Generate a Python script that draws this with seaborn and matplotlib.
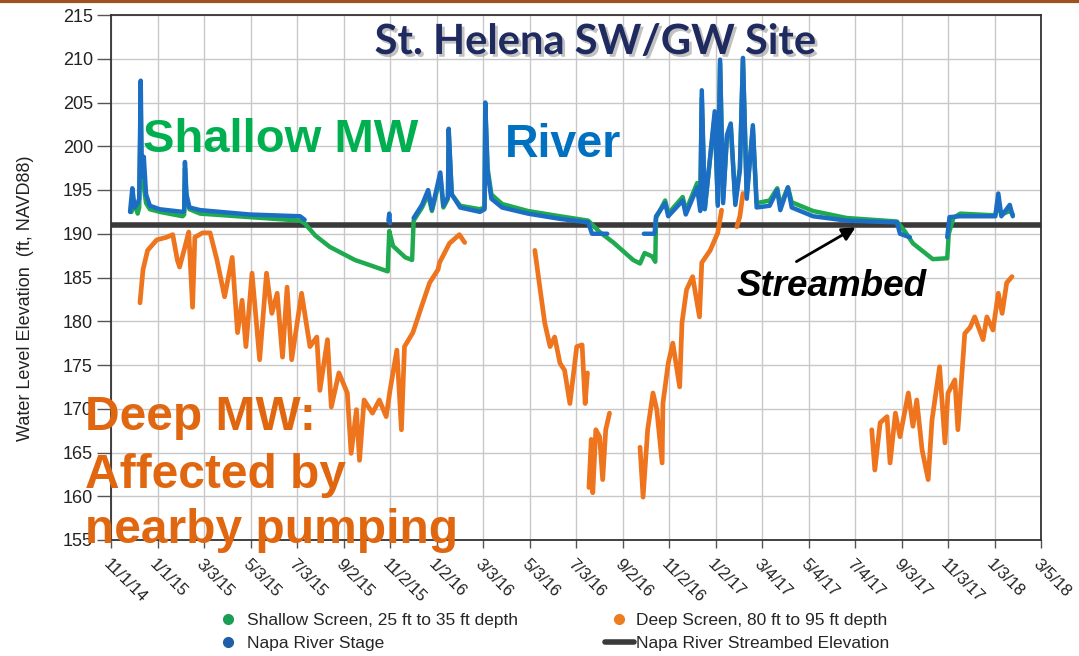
import pandas as pd
import seaborn as sns
import matplotlib.pyplot as plt
import matplotlib.patheffects as pe
from matplotlib.lines import Line2D

# Shallow monitoring well (25-35 ft screen)
shallow_dates = ["2014-11-28", "2014-12-02", "2014-12-06", "2014-12-08", "2014-12-10", "2014-12-11",
                 "2014-12-13", "2014-12-17", "2014-12-22", "2015-01-04", "2015-02-03", "2015-02-05",
                 "2015-02-06", "2015-02-08", "2015-02-12", "2015-02-26", "2015-05-02", "2015-07-07",
                 "2015-07-13", "2015-07-27", "2015-08-15", "2015-09-17", "2015-10-07", "2015-10-30",
                 "2015-11-01", "2015-11-06", "2015-11-22", "2015-12-01", "2015-12-03", "2015-12-14",
                 "2015-12-22", "2015-12-27", "2016-01-07", "2016-01-11", "2016-01-17", "2016-01-18",
                 "2016-01-22", "2016-02-02", "2016-02-28", "2016-03-05", "2016-03-06", "2016-03-09",
                 "2016-03-14", "2016-03-28", "2016-05-01", "2016-06-12", "2016-07-19", "2016-08-03",
                 "2016-08-21", "2016-09-16", "2016-09-25", "2016-10-01", "2016-10-11", "2016-10-15",
                 "2016-10-16", "2016-10-28", "2016-11-01", "2016-11-20", "2016-11-24", "2016-12-09",
                 "2016-12-13", "2016-12-15", "2016-12-19", "2017-01-01", "2017-01-05", "2017-01-08",
                 "2017-01-12", "2017-01-17", "2017-01-22", "2017-01-28", "2017-02-03", "2017-02-07",
                 "2017-02-12", "2017-02-20", "2017-02-25", "2017-03-14", "2017-03-24", "2017-03-28",
                 "2017-04-07", "2017-04-12", "2017-05-10", "2017-06-23", "2017-08-28", "2017-09-08",
                 "2017-09-18", "2017-10-14", "2017-11-02", "2017-11-04", "2017-11-10", "2017-11-19",
                 "2018-01-04", "2018-01-08", "2018-01-12", "2018-01-23", "2018-01-27"]
shallow_vals = [192.5, 193.5, 192.3, 193.0, 205.0, 198.0,
                196.0, 193.5, 192.8, 192.5, 192.0, 192.2,
                197.5, 194.0, 192.8, 192.3, 191.9, 191.5,
                191.2, 189.8, 188.5, 187.0, 186.4, 185.7,
                190.3, 188.6, 187.3, 187.0, 191.5, 193.0,
                194.5, 192.6, 196.5, 193.0, 194.0, 201.5,
                194.5, 193.2, 192.8, 193.0, 204.5, 197.5,
                194.5, 193.4, 192.6, 192.0, 191.5, 190.2,
                189.0, 187.0, 186.6, 187.8, 187.4, 186.8,
                191.8, 193.8, 192.3, 194.2, 192.6, 195.8,
                193.0, 205.5, 193.0, 203.5, 193.5, 209.5,
                194.0, 201.0, 202.3, 193.8, 197.5, 210.0,
                194.5, 202.0, 193.5, 193.8, 195.2, 193.2,
                195.3, 193.6, 192.6, 191.8, 191.4, 190.2,
                188.9, 187.1, 187.2, 190.0, 191.8, 192.3,
                192.1, 193.5, 192.2, 192.6, 192.2]

# Napa River stage (segments split at data gaps)
river_dates = ["2014-11-26", "2014-11-29", "2014-12-02", "2014-12-06", "2014-12-08", "2014-12-10",
               "2014-12-11", "2014-12-12", "2014-12-14", "2014-12-17", "2014-12-22", "2015-01-04",
               "2015-02-03", "2015-02-05", "2015-02-06", "2015-02-08", "2015-02-12", "2015-02-26",
               "2015-05-02", "2015-07-07", "2015-07-13",
               "2015-10-31", "2015-11-01", "2015-11-02",
               "2015-12-03", "2015-12-14", "2015-12-22", "2015-12-27", "2016-01-07", "2016-01-11",
               "2016-01-17", "2016-01-18", "2016-01-22", "2016-02-02", "2016-02-28", "2016-03-05",
               "2016-03-06", "2016-03-09", "2016-03-14", "2016-03-28", "2016-05-01", "2016-06-12",
               "2016-07-19", "2016-07-24", "2016-08-13",
               "2016-09-30", "2016-10-14", "2016-10-16", "2016-10-28", "2016-11-01", "2016-11-20",
               "2016-11-24", "2016-12-09", "2016-12-13", "2016-12-15", "2016-12-19", "2017-01-01",
               "2017-01-05", "2017-01-08", "2017-01-12", "2017-01-17", "2017-01-22", "2017-01-28",
               "2017-02-03", "2017-02-07", "2017-02-12", "2017-02-20", "2017-02-25", "2017-03-14",
               "2017-03-24", "2017-03-28", "2017-04-07", "2017-04-12", "2017-05-10", "2017-06-23",
               "2017-08-28", "2017-09-01", "2017-09-14",
               "2017-11-02", "2017-11-05", "2017-11-19", "2018-01-04", "2018-01-08", "2018-01-12",
               "2018-01-23", "2018-01-27"]
river_vals = [192.5, 195.2, 193.0, 193.5, 194.0, 207.5,
              199.0, 196.5, 198.8, 194.5, 193.2, 192.8,
              192.5, 192.6, 198.2, 194.5, 193.0, 192.7,
              192.2, 192.0, 191.6,
              191.5, 192.3, 191.2,
              191.8, 193.3, 195.0, 192.8, 197.0, 193.2,
              194.2, 202.0, 194.5, 193.0, 192.5, 192.8,
              205.0, 197.0, 194.0, 193.0, 192.3, 191.7,
              191.3, 190.0, 190.0,
              190.0, 190.0, 192.0, 193.5, 192.0, 193.8,
              192.2, 195.3, 192.6, 206.4, 192.8, 204.0,
              193.2, 209.9, 193.5, 201.3, 202.6, 193.3,
              197.3, 210.1, 194.0, 202.4, 193.0, 193.2,
              195.0, 192.7, 195.3, 193.0, 192.0, 191.5,
              191.3, 190.0, 189.6,
              189.6, 191.9, 192.0, 192.0, 194.6, 192.0,
              193.3, 192.0]
river_seg = [1] * 21 + [2] * 3 + [3] * 21 + [4] * 33 + [5] * 8

# Deep monitoring well (80-95 ft screen)
deep_dates = ["2014-12-09", "2014-12-13", "2014-12-19", "2014-12-31", "2015-01-13", "2015-01-21",
              "2015-01-27", "2015-01-30", "2015-02-06", "2015-02-11", "2015-02-16", "2015-02-19",
              "2015-03-01", "2015-03-11", "2015-03-20", "2015-03-30", "2015-04-09", "2015-04-16",
              "2015-04-22", "2015-04-27", "2015-05-05", "2015-05-15", "2015-05-24", "2015-05-31",
              "2015-06-07", "2015-06-14", "2015-06-20", "2015-06-26", "2015-07-09", "2015-07-20",
              "2015-07-29", "2015-08-02", "2015-08-12", "2015-08-17", "2015-08-27", "2015-09-07",
              "2015-09-12", "2015-09-19", "2015-09-23", "2015-09-29", "2015-10-10", "2015-10-19",
              "2015-10-28", "2015-11-02", "2015-11-11", "2015-11-17", "2015-11-21", "2015-12-02",
              "2015-12-15", "2015-12-24", "2016-01-04", "2016-01-06", "2016-01-19", "2016-02-01",
              "2016-02-08",
              "2016-05-10", "2016-05-17", "2016-05-23", "2016-05-30", "2016-06-05", "2016-06-12",
              "2016-06-18", "2016-06-25", "2016-07-04", "2016-07-11", "2016-07-15", "2016-07-18",
              "2016-07-20", "2016-07-23", "2016-07-25", "2016-07-29", "2016-08-03", "2016-08-07",
              "2016-08-11", "2016-08-16",
              "2016-09-25", "2016-09-29", "2016-10-05", "2016-10-12", "2016-10-17", "2016-10-24",
              "2016-10-25", "2016-11-01", "2016-11-07", "2016-11-16", "2016-11-19", "2016-11-25",
              "2016-12-03", "2016-12-12", "2016-12-15", "2016-12-26", "2017-01-05", "2017-01-10",
              "2017-01-30", "2017-02-03", "2017-02-07",
              "2017-07-26", "2017-07-30", "2017-08-06", "2017-08-15", "2017-08-19", "2017-08-26",
              "2017-09-01", "2017-09-12", "2017-09-18", "2017-09-23", "2017-09-30", "2017-10-08",
              "2017-10-13", "2017-10-23", "2017-10-30", "2017-11-03", "2017-11-12", "2017-11-16",
              "2017-11-25", "2017-12-02", "2017-12-08", "2017-12-19", "2017-12-24", "2018-01-01",
              "2018-01-08", "2018-01-13", "2018-01-19", "2018-01-26"]
deep_vals = [182.1, 185.9, 188.1, 189.3, 189.6, 189.9,
             187.0, 186.2, 188.5, 190.2, 181.6, 189.6,
             190.1, 190.1, 187.0, 182.8, 187.3, 178.7,
             182.4, 177.1, 185.5, 175.6, 185.5, 180.9,
             183.2, 175.9, 183.9, 175.6, 183.2, 177.1,
             178.2, 172.1, 177.9, 170.2, 174.1, 171.8,
             164.9, 169.9, 164.1, 171.0, 169.5, 171.0,
             169.1, 172.1, 176.7, 167.6, 177.1, 178.7,
             182.1, 184.4, 185.9, 186.7, 188.9, 189.9,
             189.0,
             188.1, 183.6, 179.8, 177.1, 178.2, 175.2,
             174.4, 170.6, 177.1, 177.3, 170.6, 174.1,
             161.0, 166.5, 160.4, 167.6, 166.8, 161.9,
             167.6, 169.5,
             165.6, 159.9, 167.6, 171.8, 169.9, 163.8,
             170.6, 175.2, 177.5, 172.5, 179.8, 183.6,
             185.1, 180.5, 186.7, 188.1, 190.1, 192.7,
             190.8, 192.0, 194.6,
             167.6, 163.0, 168.4, 169.1, 163.8, 169.5,
             166.8, 171.8, 168.0, 171.0, 165.3, 161.9,
             168.7, 174.8, 166.1, 171.8, 173.3, 167.6,
             178.6, 179.3, 180.5, 177.9, 180.5, 179.0,
             183.2, 180.9, 184.4, 185.1]
deep_seg = [1] * 55 + [2] * 12 + [3] * 8 + [4] * 18 + [5] * 3 + [6] * 28

streambed_elev = 191.0

y_ticks = list(range(155, 216, 5))
x_tick_dates = ["2014-11-01", "2015-01-01", "2015-03-03", "2015-05-03", "2015-07-03", "2015-09-02",
                "2015-11-02", "2016-01-02", "2016-03-03", "2016-05-03", "2016-07-03", "2016-09-02",
                "2016-11-02", "2017-01-02", "2017-03-04", "2017-05-04", "2017-07-04", "2017-09-03",
                "2017-11-03", "2018-01-03", "2018-03-05"]
x_tick_labels = ["11/1/14", "1/1/15", "3/3/15", "5/3/15", "7/3/15", "9/2/15", "11/2/15", "1/2/16",
                 "3/3/16", "5/3/16", "7/3/16", "9/2/16", "11/2/16", "1/2/17", "3/4/17", "5/4/17",
                 "7/4/17", "9/3/17", "11/3/17", "1/3/18", "3/5/18"]

green = "#1FAA50"
blue = "#1C6EC4"
orange = "#EE741E"
bed_col = "#3A3A3A"

shallow_df = pd.DataFrame({"date": pd.to_datetime(shallow_dates), "elev": shallow_vals})
river_df = pd.DataFrame({"date": pd.to_datetime(river_dates), "elev": river_vals, "seg": river_seg})
deep_df = pd.DataFrame({"date": pd.to_datetime(deep_dates), "elev": deep_vals, "seg": deep_seg})

sns.set_style("white")
plt.rcParams["font.family"] = ["Liberation Sans", "DejaVu Sans"]

fig = plt.figure(figsize=(10.79, 6.56), dpi=100)
ax = fig.add_axes([111 / 1079, 1 - 540 / 656, 930 / 1079, 525 / 656])

ax.axhline(streambed_elev, color=bed_col, lw=4, zorder=2)
sns.lineplot(data=shallow_df, x="date", y="elev", color=green, lw=3.2, ax=ax, zorder=3)
sns.lineplot(data=deep_df, x="date", y="elev", units="seg", estimator=None, color=orange,
             lw=3.4, ax=ax, zorder=3)
sns.lineplot(data=river_df, x="date", y="elev", units="seg", estimator=None, color=blue,
             lw=3.2, ax=ax, zorder=4)

ax.set_xlim(pd.Timestamp("2014-11-01"), pd.Timestamp("2018-03-05"))
ax.set_ylim(155, 215)
ax.set_yticks(y_ticks)
ax.set_yticklabels([str(v) for v in y_ticks], fontsize=13, color="#222222")
ax.set_xticks(pd.to_datetime(x_tick_dates))
ax.set_xticklabels(x_tick_labels, rotation=-45, ha="left", va="top", rotation_mode="anchor",
                   fontsize=12, color="#222222")
ax.tick_params(axis="y", length=10, width=1, color="#555555", direction="out", pad=3, left=True)
ax.tick_params(axis="x", length=6, width=1, color="#555555", direction="out", pad=6, bottom=True)
ax.grid(True, color="#C8C8C8", lw=1)
for s in ax.spines.values():
    s.set_visible(True)
    s.set_color("#333333")
    s.set_linewidth(1.3)
ax.set_xlabel("")
ax.set_ylabel("Water Level Elevation  (ft, NAVD88)", fontsize=13, color="#222222", va="center")
ax.yaxis.set_label_coords((26 - 111) / 930, (540 - 298) / 525)

# legend, one column per call so the markers land where the reference puts them
leg_font = {"size": 12.5}
h1 = [Line2D([], [], ls="none", marker="o", ms=7, color="#1A9E55"),
      Line2D([], [], ls="none", marker="o", ms=7, color="#1F5FA8")]
leg1 = fig.legend(h1, ["Shallow Screen, 25 ft to 35 ft depth", "Napa River Stage"],
                  loc="center left", bbox_to_anchor=(204 / 1079, 1 - 632 / 656), frameon=False,
                  prop=leg_font, handlelength=1.0, handletextpad=0.55, labelspacing=0.45)
h2 = [Line2D([], [], ls="none", marker="o", ms=7, color="#EE7D22"),
      Line2D([], [], color=bed_col, lw=4)]
leg2 = fig.legend(h2, ["Deep Screen, 80 ft to 95 ft depth", "Napa River Streambed Elevation"],
                  loc="center left", bbox_to_anchor=(589 / 1079, 1 - 632 / 656), frameon=False,
                  prop=leg_font, handlelength=1.7, handletextpad=0.1, labelspacing=0.45)

# annotations
fig.text(595 / 1079, 1 - 42 / 656, "St. Helena SW/GW Site", ha="center", va="center",
         fontsize=30, fontweight="bold", color="#1F2A5E", family=["Lato", "DejaVu Sans"],
         path_effects=[pe.withSimplePatchShadow(offset=(2, -2), shadow_rgbFace="#9a9a9a", alpha=0.6)])
fig.text(143 / 1079, 1 - 152 / 656, "Shallow MW", ha="left", va="baseline", fontsize=34,
         fontweight="bold", color="#00B050")
fig.text(505 / 1079, 1 - 157 / 656, "River", ha="left", va="baseline", fontsize=33.5,
         fontweight="bold", color="#0070C0")
fig.text(737 / 1079, 1 - 296 / 656, "Streambed", ha="left", va="baseline", fontsize=26.5,
         fontweight="bold", style="italic", color="black")
ax.annotate("", xy=(858 / 1079, 1 - 226 / 656), xytext=(794 / 1079, 1 - 263 / 656),
            xycoords="figure fraction", textcoords="figure fraction",
            arrowprops=dict(arrowstyle="-|>", color="black", lw=2, mutation_scale=20))
deep_col = "#E0670F"
for txt, yb in [("Deep MW:", 430), ("Affected by", 488), ("nearby pumping", 543)]:
    fig.text(85 / 1079, 1 - yb / 656, txt, ha="left", va="baseline", fontsize=34.5,
             fontweight="bold", color=deep_col, zorder=10)

fig.add_artist(Line2D([0, 1], [0.998, 0.998], color="#A0521E", lw=3, transform=fig.transFigure))

plt.savefig("out.png", dpi=100)
